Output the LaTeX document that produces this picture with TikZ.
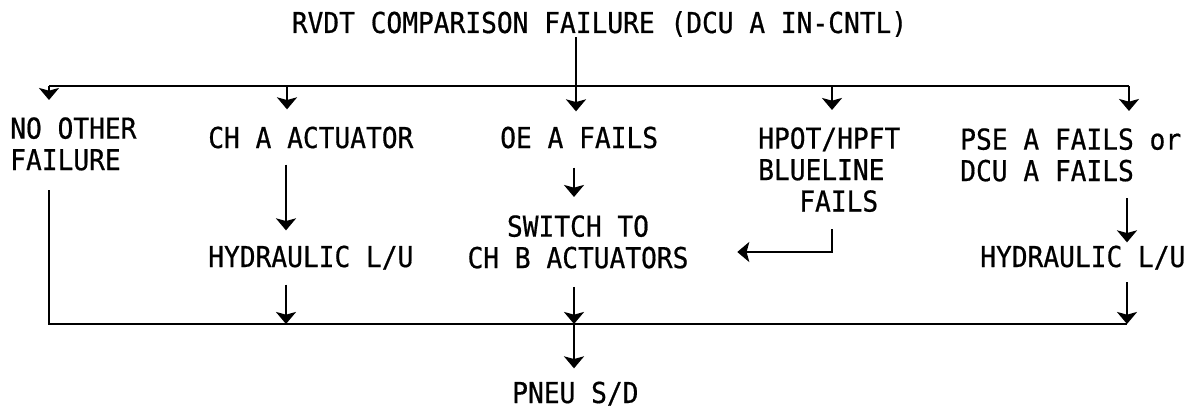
\documentclass[tikz,border=0pt]{standalone}
\usepackage{fontspec}
\newfontfamily\monofont[FakeStretch=0.91,FakeBold=0.6]{DejaVu Sans Mono}
\usetikzlibrary{arrows.meta}

\tikzset{
  lbl/.style={inner sep=0pt, font=\monofont\fontsize{21.6pt}{23.6pt}\selectfont},
  wire/.style={line width=1.8pt},
  flow/.style={wire, -{Stealth[length=9pt,width=15pt,inset=2pt]}},
  drop/.style={flow, shorten >=12.75pt}
}

\begin{document}
\begin{tikzpicture}[x=0.75pt,y=0.75pt,yscale=-1,xscale=1]
\useasboundingbox (0,0) rectangle (1196,410);

% Text Node
\node[lbl, anchor=base] (rvdt) at (599.5,33) {RVDT COMPARISON FAILURE (DCU A IN-CNTL)};
% Text Node
\node[lbl, anchor=north west, align=left] (noother) at (10,117) {NO OTHER\\FAILURE};
% Text Node
\node[lbl, anchor=base west] (chact) at (208,148) {CH A ACTUATOR};
% Text Node
\node[lbl, anchor=base west] (oefail) at (500,148) {OE A FAILS};
% Text Node
\node[lbl, anchor=north west, align=left] (hpot) at (758,127) {HPOT/HPFT\\BLUELINE\\\hspace*{30.75pt}FAILS};
% Text Node
\node[lbl, anchor=north west, align=left] (psefail) at (960,128) {PSE A FAILS or\\DCU A FAILS};
% Text Node
\node[lbl, anchor=base west] (hydl) at (208,267) {HYDRAULIC L/U};
% Text Node
\node[lbl, anchor=north, align=center] (switch) at (578,215) {SWITCH TO\\CH B ACTUATORS};
% Text Node
\node[lbl, anchor=base west] (hydr) at (980,267) {HYDRAULIC L/U};
% Text Node
\node[lbl, anchor=base west] (pneu) at (512,403) {PNEU S/D};

% junctions on the two buses
\coordinate (t1) at (49,86);
\coordinate (t2) at (287,86);
\coordinate (t3) at (576,86);
\coordinate (t4) at (832,86);
\coordinate (t5) at (1129,86);
\coordinate (d1) at (49,324);
\coordinate (d2) at (286,324);
\coordinate (d3) at (574,324);
\coordinate (d5) at (1127,324);
\coordinate (hk) at (832,252);

% top bus
\draw[wire] (t1) -- (t5);
\draw[flow, shorten >=11.25pt] (rvdt.south -| t3) -- (oefail.north -| t3);
\draw[drop] (t1) -- (noother.north -| t1);
\draw[drop] (t2) -- (chact.north -| t2);
\draw[drop] (t4) -- (hpot.north -| t4);
\draw[drop] (t5) -- (psefail.north -| t5);

% second row
\draw[flow, shorten <=12pt, shorten >=11.25pt] (chact.south -| d2) -- (hydl.north -| d2);
\draw[flow, shorten <=14.25pt, shorten >=13.5pt] (oefail.south -| d3) -- (switch.north -| d3);
\draw[flow, shorten <=12.4pt, shorten >=2.25pt] (psefail.south -| d5) -- (hydr.north -| d5);
\draw[flow, shorten <=12.75pt, shorten >=36.4pt] (hpot.south -| hk) -- (hk) -- (hk -| switch.east);

% bottom bus
\draw[wire, shorten <=14.6pt] (noother.south -| d1) -- (d1) -- (d5);
\draw[flow, shorten <=11pt] (hydl.south -| d2) -- (d2);
\draw[flow, shorten <=13.5pt] (switch.south -| d3) -- (d3);
\draw[flow, shorten <=9.3pt] (hydr.south -| d5) -- (d5);
\draw[flow, shorten >=9.75pt] (d3) -- (pneu.north -| d3);

\end{tikzpicture}
\end{document}
